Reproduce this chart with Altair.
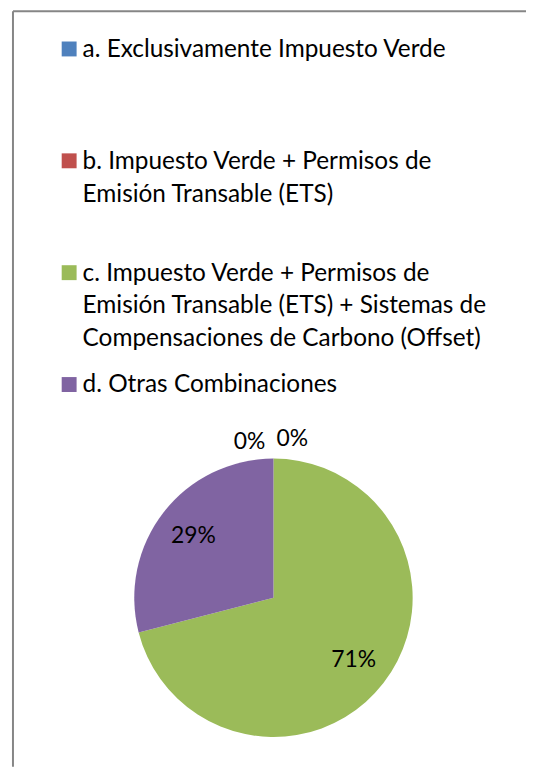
import altair as alt
import pandas as pd

categories = ["a", "b", "c", "d"]
labels = [
    "a. Exclusivamente Impuesto Verde",
    "b. Impuesto Verde + Permisos de\nEmisión Transable (ETS)",
    "c. Impuesto Verde + Permisos de\nEmisión Transable (ETS) + Sistemas de\nCompensaciones de Carbono (Offset)",
    "d. Otras Combinaciones",
]
values = [0, 0, 71, 29]
colors = ["#4F81BD", "#C0504D", "#9BBB59", "#8064A2"]

df = pd.DataFrame({"cat": categories, "label": labels, "val": values})
df["pct"] = df["val"].astype(str) + "%"

W, H = 516, 760
FONT = "Lato"
CX, CY = 262, 590
FS_LEG = 24.5
FS_PIE = 23

base = alt.Chart(df)

color = alt.Color("cat:N", scale=alt.Scale(domain=categories, range=colors), legend=None)
order = alt.Order("cat:N", sort="ascending")

pie = base.mark_arc(radius=140, stroke=None).encode(
    theta=alt.Theta("val:Q", stack=True),
    color=color,
    order=order,
    x=alt.value(CX),
    y=alt.value(CY),
)

inner = base.transform_filter("datum.val > 0").mark_text(
    radius=102, font=FONT, fontSize=FS_PIE, color="#000000", align="center", baseline="middle"
).encode(
    theta=alt.Theta("val:Q", stack=True),
    order=order,
    text="pct:N",
    x=alt.value(CX),
    y=alt.value(CY),
)

zero_a = base.transform_filter("datum.cat == 'a'").mark_text(
    radius=157, dx=-24, font=FONT, fontSize=FS_PIE, color="#000000", align="center", baseline="middle"
).encode(
    theta=alt.Theta("val:Q", stack=True),
    text="pct:N",
    x=alt.value(CX),
    y=alt.value(CY),
)

zero_b = base.transform_filter("datum.cat == 'b'").mark_text(
    radius=160, dx=19, font=FONT, fontSize=FS_PIE, color="#000000", align="center", baseline="middle"
).encode(
    theta=alt.Theta("val:Q", stack=True),
    text="pct:N",
    x=alt.value(CX),
    y=alt.value(CY),
)

ysc = alt.Y("cat:N", scale=alt.Scale(type="point", domain=categories, range=[38, 375.5], padding=0), axis=None)

leg_sq = base.mark_square(size=225, opacity=1).encode(
    x=alt.value(56.5),
    y=ysc,
    color=color,
)

leg_txt = base.mark_text(
    align="left", baseline="top", dy=-11, lineBreak="\n", lineHeight=33,
    font=FONT, fontSize=FS_LEG, color="#000000"
).encode(
    x=alt.value(70),
    y=ysc,
    text="label:N",
)

frame_top = base.transform_filter("datum.cat == 'a'").mark_rule(color="#868686", strokeWidth=2).encode(
    x=alt.value(0), x2=alt.value(W), y=alt.value(0)
)
frame_left = base.transform_filter("datum.cat == 'a'").mark_rule(color="#868686", strokeWidth=2).encode(
    x=alt.value(0), y=alt.value(0), y2=alt.value(H)
)

chart = alt.layer(
    frame_top, frame_left, pie, inner, zero_a, zero_b, leg_sq, leg_txt
).properties(
    width=W, height=H,
    autosize=alt.AutoSizeParams(type="none"),
    padding={"left": 5, "top": 1, "right": 0, "bottom": 0},
).configure_view(stroke=None)

chart.save("out.html", embed_options={"renderer": "svg", "actions": False})
